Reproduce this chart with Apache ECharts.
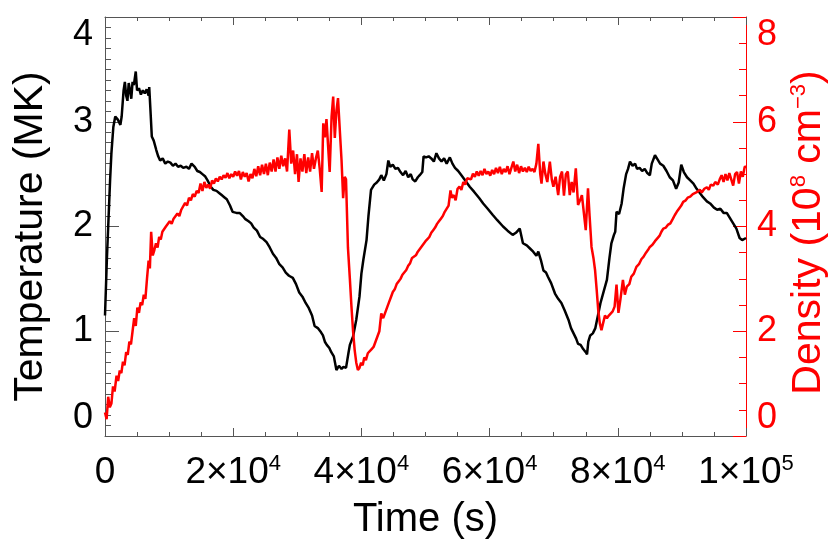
<!DOCTYPE html>
<html>
<head>
<meta charset="utf-8">
<script src="https://cdn.jsdelivr.net/npm/echarts@6/dist/echarts.min.js"></script>
<style>
html,body{margin:0;padding:0;background:#fff;}
#chart{width:830px;height:554px;}
</style>
</head>
<body>
<div id="chart"></div>
<script>
// ---- data ----
const xTickLabels = ['0', '2×10{s|4}', '4×10{s|4}', '6×10{s|4}', '8×10{s|4}', '1×10{s|5}'];

const tTemp = [0,300,500,800,1000,1300,1600,2000,2400,2600,2900,3100,3300,3500,3700,3900,4100,4300,4500,4800,5000,5300,5600,5900,6200,6500,6800,6900,7100,7300,7600,8000,8300,8600,9000,9400,9800,10200,10600,11000,11400,11800,12200,12700,13100,13500,14000,14400,14800,15200,15600,16000,16500,16900,17400,17800,18200,18600,19000,19500,19900,20500,21000,21500,21900,22400,22800,23200,23700,24200,24700,25200,25700,26200,26700,27200,27700,28200,28700,29300,29800,30300,30800,31300,31800,32300,32700,33200,33700,34000,34300,34600,35000,35300,35700,36100,36500,36900,37200,37600,38000,38200,38700,39200,39700,40000,40300,40800,41100,41500,42000,42400,42800,43100,43500,43900,44200,44500,44900,45300,45700,46100,46500,46900,47300,47700,48000,48400,48800,49100,49500,49700,50100,50500,50900,51300,51700,52100,52500,52900,53300,53800,54200,54600,55100,55600,56200,56900,57600,58400,59000,59700,60500,61200,62100,62800,63600,64100,64700,65200,65800,66300,66800,67300,67600,68000,68400,68800,69100,69600,70200,70700,71200,71700,72300,72700,73100,73500,73800,74200,74600,75000,75200,75400,75700,76100,76500,76900,77300,77800,78300,78700,79000,79400,79600,79800,80200,80600,80900,81300,81600,81900,82300,82700,83000,83400,83800,84200,84600,85000,85300,85800,86200,86600,87100,87600,88100,88600,89100,89500,89900,90300,90800,91300,91800,92300,92800,93300,93900,94400,95000,95500,96000,96500,97000,97500,98000,98500,99000,99400,100000];
const temp = [1.15,1.7,2.0,2.45,2.7,2.95,3.05,3.02,2.97,3.05,3.3,3.38,3.25,3.2,3.37,3.3,3.22,3.38,3.35,3.48,3.3,3.32,3.26,3.3,3.27,3.31,3.25,3.33,3.1,2.86,2.82,2.73,2.67,2.63,2.65,2.6,2.62,2.61,2.58,2.6,2.57,2.58,2.56,2.57,2.55,2.6,2.57,2.53,2.52,2.5,2.48,2.44,2.38,2.35,2.34,2.32,2.3,2.28,2.26,2.2,2.14,2.13,2.13,2.1,2.07,2.05,2.03,1.99,1.96,1.9,1.88,1.85,1.8,1.74,1.7,1.64,1.61,1.56,1.53,1.51,1.45,1.37,1.33,1.27,1.22,1.15,1.05,1.03,0.99,0.96,0.9,0.87,0.84,0.8,0.76,0.63,0.67,0.64,0.66,0.65,0.8,0.87,0.95,1.11,1.33,1.55,1.68,1.87,2.1,2.35,2.4,2.42,2.45,2.49,2.44,2.5,2.63,2.57,2.59,2.55,2.56,2.52,2.49,2.53,2.47,2.5,2.45,2.43,2.47,2.49,2.52,2.67,2.66,2.67,2.65,2.62,2.7,2.65,2.62,2.65,2.6,2.66,2.6,2.56,2.53,2.49,2.44,2.38,2.33,2.27,2.22,2.17,2.11,2.06,2.0,1.96,1.92,1.94,1.98,1.84,1.82,1.79,1.76,1.72,1.76,1.68,1.58,1.56,1.52,1.46,1.36,1.31,1.27,1.2,1.11,1.03,0.98,0.93,0.88,0.87,0.83,0.8,0.78,0.9,0.96,0.98,1.03,1.15,1.27,1.38,1.49,1.7,1.84,1.92,1.95,2.14,2.12,2.22,2.36,2.5,2.55,2.62,2.58,2.6,2.55,2.56,2.53,2.55,2.51,2.49,2.6,2.68,2.64,2.6,2.58,2.53,2.47,2.44,2.36,2.42,2.59,2.52,2.47,2.44,2.41,2.36,2.32,2.28,2.24,2.22,2.18,2.16,2.17,2.13,2.13,2.08,2.03,1.98,1.89,1.87,1.89];

const tDens = [0,250,500,750,1000,1250,1500,1800,2050,2300,2550,2800,3050,3300,3550,3800,4050,4300,4550,4800,5050,5300,5550,5800,6050,6300,6550,6800,7000,7200,7450,7700,7950,8200,8450,8700,8950,9200,9500,9800,10100,10400,10700,11000,11300,11600,11900,12200,12500,12800,13100,13400,13700,14000,14300,14600,14900,15200,15500,15800,16100,16400,16700,17000,17300,17600,17900,18200,18500,18800,19100,19400,19700,20000,20300,20600,20900,21200,21500,21800,22100,22400,22700,23000,23300,23600,23900,24200,24500,24800,25100,25400,25700,26000,26300,26600,26900,27200,27500,27800,28100,28400,28750,29050,29350,29650,29950,30200,30500,30800,31100,31400,31700,32000,32300,32600,32900,33200,33500,33800,34050,34300,34550,34800,35050,35350,35600,35850,36100,36350,36650,36900,37150,37400,37600,37900,38200,38450,38700,38950,39200,39450,39700,39950,40200,40450,40700,41000,41300,41600,41900,42200,42500,42800,43100,43400,43700,44000,44300,44600,44900,45200,45500,45800,46100,46400,46700,47000,47300,47600,47900,48200,48500,48800,49100,49400,49700,50000,50300,50600,50900,51200,51500,51800,52100,52400,52700,53000,53300,53600,53900,54100,54400,54700,55000,55300,55600,55900,56200,56500,56800,57100,57400,57700,58000,58300,58600,58900,59200,59500,59800,60100,60400,60700,61000,61300,61600,61900,62200,62500,62800,63100,63400,63700,64000,64300,64600,64900,65200,65500,65800,66100,66400,66700,67000,67300,67600,67900,68100,68400,68700,69000,69400,69700,69950,70300,70700,71000,71300,71600,71900,72200,72500,72800,73100,73450,73800,74100,74400,74650,75000,75350,75600,75900,76200,76450,76700,76950,77200,77450,77700,78000,78300,78600,78900,79200,79500,79800,80100,80400,80800,81100,81400,81800,82100,82500,82900,83300,83700,84000,84400,84700,85000,85400,85800,86100,86500,86800,87100,87500,87800,88200,88600,88900,89200,89600,89900,90200,90600,90900,91300,91700,92000,92400,92800,93100,93500,93900,94200,94500,94900,95200,95600,95900,96200,96500,96800,97100,97400,97700,98000,98300,98600,98900,99200,99500,99800,100000];
const dens = [0.45,0.32,0.75,0.55,0.62,0.95,0.85,1.15,1.05,1.25,1.2,1.42,1.35,1.6,1.55,1.8,1.75,2.0,2.25,2.1,2.45,2.35,2.55,2.5,2.7,2.62,3.0,3.35,3.2,3.9,3.45,3.55,3.68,3.6,3.8,3.75,3.9,3.88,4.0,3.97,4.1,4.05,4.15,4.12,4.25,4.2,4.32,4.3,4.45,4.4,4.55,4.5,4.62,4.57,4.68,4.64,4.82,4.68,4.85,4.74,4.8,4.72,4.88,4.82,4.92,4.86,4.95,4.9,4.98,4.93,5.02,4.92,5.0,4.95,5.05,4.97,5.06,4.9,5.04,4.95,5.02,4.86,5.0,4.92,5.1,4.96,5.15,4.98,5.18,5.0,5.2,4.98,5.22,5.05,5.28,5.05,5.32,5.1,5.35,5.15,5.3,5.05,5.85,5.2,5.45,5.0,5.38,4.85,5.3,5.05,5.38,5.02,5.32,5.05,5.4,5.1,5.3,5.45,5.1,4.66,5.97,5.7,6.05,5.55,5.04,6.1,6.48,5.69,6.2,6.45,5.8,5.27,4.54,4.95,4.9,3.6,3.0,2.47,2.0,1.64,1.4,1.26,1.3,1.4,1.35,1.5,1.45,1.58,1.55,1.66,1.7,1.8,1.9,2.0,2.34,2.25,2.35,2.45,2.55,2.65,2.75,2.8,2.9,2.95,3.0,3.08,3.1,3.17,3.25,3.3,3.4,3.43,3.45,3.52,3.55,3.62,3.65,3.72,3.76,3.8,3.88,3.93,3.98,4.05,4.1,4.15,4.2,4.28,4.31,4.4,4.69,4.55,4.6,4.5,4.72,4.76,4.7,4.85,4.8,4.92,4.95,4.9,5.01,4.95,5.05,4.97,5.06,4.98,5.1,5.0,5.05,4.97,5.08,5.0,5.12,5.02,5.14,5.0,5.1,5.04,5.15,5.0,5.12,5.24,5.05,5.18,5.02,5.15,5.05,5.12,5.04,5.14,5.06,5.1,5.04,5.2,5.58,5.0,4.82,5.24,5.0,4.85,5.24,4.9,4.76,4.95,4.6,4.95,5.05,4.59,5.0,5.05,4.6,4.85,4.65,5.11,4.41,4.5,4.6,4.63,3.93,4.73,4.2,3.61,3.4,3.17,2.8,2.4,2.15,2.02,2.15,2.3,2.25,2.3,2.28,2.38,2.47,2.89,2.35,2.6,2.98,2.7,2.85,2.9,3.04,3.1,3.23,3.28,3.38,3.42,3.5,3.55,3.61,3.65,3.72,3.75,3.82,3.9,3.96,3.98,4.03,4.06,4.15,4.22,4.28,4.35,4.4,4.47,4.5,4.55,4.57,4.62,4.65,4.66,4.7,4.65,4.72,4.75,4.7,4.8,4.78,4.85,4.8,4.9,4.98,4.85,5.0,4.88,5.02,4.9,4.78,5.0,5.04,4.82,5.05,4.95,5.14,5.14];

// ---- chart ----
const FONT = '"Liberation Sans", Arial, Helvetica, sans-serif';
const AX = '#555';
const RED = '#ff0000';
const chart = echarts.init(document.getElementById('chart'), null, {renderer: 'canvas'});

function tickStyle(color, len) {
  return {show: true, inside: false, length: -len, lineStyle: {color: color, width: 1}};
}
function minorStyle(color, len, n) {
  return {show: true, splitNumber: n, length: -len, lineStyle: {color: color, width: 1}};
}

const option = {
  animation: false,
  backgroundColor: '#fff',
  grid: {left: 105, right: 84, top: 17, bottom: 118, containLabel: false, outerBoundsMode: 'none'},
  xAxis: [
    {
      type: 'value', min: 0, max: 100000, interval: 20000, position: 'bottom',
      axisLine: {show: true, onZero: false, lineStyle: {color: AX, width: 1}},
      axisTick: tickStyle(AX, 8),
      minorTick: minorStyle(AX, 4, 4),
      splitLine: {show: false},
      axisLabel: {
        show: true, margin: 17, fontSize: 37, lineHeight: 40, color: '#000', fontFamily: FONT,
        formatter: function (v) { return xTickLabels[Math.round(v / 20000)]; },
        rich: {s: {fontSize: 22, fontFamily: FONT, color: '#000', verticalAlign: 'top', lineHeight: 22}}
      },
      name: 'Time (s)', nameLocation: 'middle', nameGap: 59,
      nameTextStyle: {fontSize: 40, color: '#000', fontFamily: FONT, lineHeight: 44}
    },
    {
      type: 'value', min: 0, max: 100000, interval: 20000, position: 'top',
      axisLine: {show: true, onZero: false, lineStyle: {color: AX, width: 1}},
      axisTick: tickStyle(AX, 8),
      minorTick: minorStyle(AX, 4, 4),
      splitLine: {show: false},
      axisLabel: {show: false}
    }
  ],
  yAxis: [
    {
      type: 'value', min: 0, max: 4, interval: 1, position: 'left',
      axisLine: {show: true, onZero: false, lineStyle: {color: AX, width: 1}},
      axisTick: tickStyle(AX, 14),
      minorTick: minorStyle(AX, 6, 10),
      splitLine: {show: false},
      axisLabel: {
        margin: 12, fontSize: 36, color: '#000', fontFamily: FONT,
        verticalAlignMinLabel: 'bottom', verticalAlignMaxLabel: 'top'
      },
      name: 'Temperature (MK)', nameLocation: 'middle', nameRotate: 90, nameGap: 54,
      nameTextStyle: {fontSize: 41, color: '#000', fontFamily: FONT, padding: [0, 20, 0, 0]}
    },
    {
      type: 'value', min: 0, max: 8, interval: 2, position: 'right',
      axisLine: {show: true, onZero: false, lineStyle: {color: RED, width: 1}},
      axisTick: tickStyle(RED, 13),
      minorTick: minorStyle(RED, 7, 4),
      splitLine: {show: false},
      axisLabel: {
        margin: 11, fontSize: 36, color: RED, fontFamily: FONT,
        verticalAlignMinLabel: 'bottom', verticalAlignMaxLabel: 'top'
      },
      name: 'Density (10{s|8} cm{s|−3})', nameLocation: 'middle', nameRotate: 90, nameGap: 37,
      nameTextStyle: {
        fontSize: 41, color: RED, fontFamily: FONT, padding: [0, 12, 0, 0],
        rich: {s: {fontSize: 22, color: RED, fontFamily: FONT, verticalAlign: 'top', lineHeight: 22}}
      }
    }
  ],
  series: [
    {
      type: 'line', xAxisIndex: 0, yAxisIndex: 0, showSymbol: false, symbol: 'none',
      lineStyle: {color: '#000', width: 2.5}, itemStyle: {color: '#000'},
      data: tTemp.map((t, i) => [t, temp[i]]), z: 2
    },
    {
      type: 'line', xAxisIndex: 0, yAxisIndex: 1, showSymbol: false, symbol: 'none',
      lineStyle: {color: RED, width: 2.5}, itemStyle: {color: RED},
      data: tDens.map((t, i) => [t, dens[i]]), z: 3
    }
  ]
};
chart.setOption(option);
</script>
</body>
</html>
